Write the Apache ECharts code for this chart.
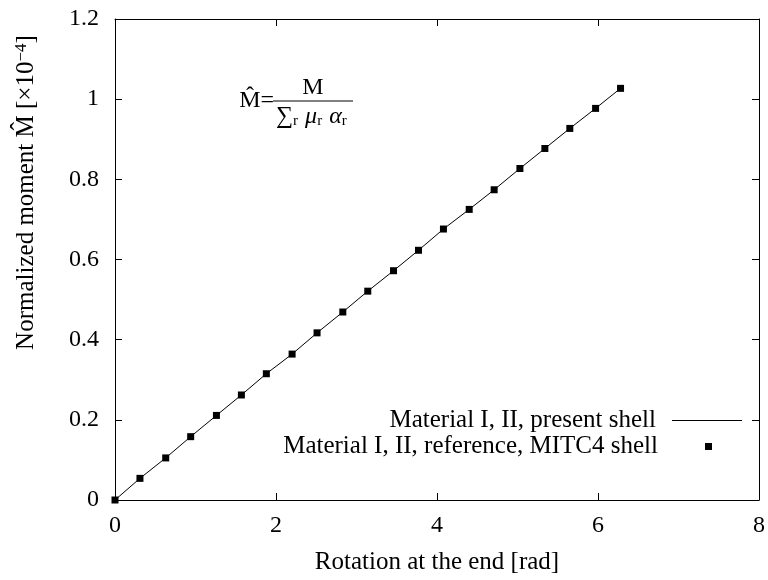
<!DOCTYPE html>
<html>
<head>
<meta charset="utf-8">
<script src="https://cdn.jsdelivr.net/npm/echarts@6/dist/echarts.min.js"></script>
<style>
  html, body { margin: 0; padding: 0; background: #fff; }
  #chart { width: 768px; height: 580px; }
</style>
</head>
<body>
<div id="chart"></div>
<script>
// End rotation (rad) and normalized end moment (x 1e-4)
const rotation = [0, 0.31, 0.63, 0.94, 1.26, 1.57, 1.88, 2.2, 2.51, 2.83, 3.14,
                  3.46, 3.77, 4.08, 4.4, 4.71, 5.03, 5.34, 5.65, 5.97, 6.28];
const momentPresent = [0, 0.054, 0.105, 0.158, 0.211, 0.262, 0.315, 0.364, 0.417, 0.469, 0.521,
                       0.572, 0.623, 0.676, 0.725, 0.774, 0.827, 0.877, 0.927, 0.977, 1.027];
const momentMITC4 = [0, 0.054, 0.105, 0.158, 0.211, 0.262, 0.315, 0.364, 0.417, 0.469, 0.521,
                     0.572, 0.623, 0.676, 0.725, 0.774, 0.827, 0.877, 0.927, 0.977, 1.027];
const seriesNames = ['Material I, II, present shell', 'Material I, II, reference, MITC4 shell'];

const FONT = '"Liberation Serif", "DejaVu Serif", serif';
const pairs = (xs, ys) => xs.map((x, i) => [x, ys[i]]);

const chart = echarts.init(document.getElementById('chart'), null, { renderer: 'canvas' });

const axisCommon = {
  axisLine: { show: true, onZero: false, lineStyle: { color: '#000', width: 1 } },
  axisTick: { show: true, inside: true, length: 7, lineStyle: { color: '#000' } },
  splitLine: { show: false }
};

chart.setOption({
  animation: false,
  backgroundColor: '#fff',
  textStyle: { fontFamily: FONT },
  grid: { left: 115, right: 5, top: 19, bottom: 79, containLabel: false },
  xAxis: [
    Object.assign({
      type: 'value', min: 0, max: 8, interval: 2, position: 'bottom',
      name: 'Rotation at the end [rad]', nameLocation: 'middle', nameGap: 50,
      nameTextStyle: { fontFamily: FONT, fontSize: 25, color: '#000' },
      axisLabel: { fontFamily: FONT, fontSize: 24, color: '#000', margin: 14 }
    }, axisCommon),
    Object.assign({
      type: 'value', min: 0, max: 8, interval: 2, position: 'top',
      axisLabel: { show: false }
    }, axisCommon)
  ],
  yAxis: [
    Object.assign({
      type: 'value', min: 0, max: 1.2, interval: 0.2, position: 'left',
      name: '{t|Normalized moment M\u0302 [\u00d710}{sup|\u22124}{t|]}',
      nameLocation: 'middle', nameGap: 75, nameRotate: 90,
      nameTextStyle: {
        fontFamily: FONT, fontSize: 25, color: '#000',
        padding: [0, 0, 0, 134],
        rich: {
          t: { fontFamily: FONT, fontSize: 25, color: '#000' },
          sup: { fontFamily: FONT, fontSize: 17, color: '#000', verticalAlign: 'top', padding: [0, 0, 10, 0] }
        }
      },
      axisLabel: { fontFamily: FONT, fontSize: 24, color: '#000', margin: 16 }
    }, axisCommon),
    Object.assign({
      type: 'value', min: 0, max: 1.2, interval: 0.2, position: 'right',
      axisLabel: { show: false }
    }, axisCommon)
  ],
  legend: [
    {
      data: [{ name: seriesNames[0], icon: 'rect' }],
      orient: 'vertical', align: 'right', right: 26, top: 408, padding: 0,
      itemWidth: 70, itemHeight: 1,
      textStyle: { fontFamily: FONT, fontSize: 25, color: '#000', padding: [0, 11, 0, 0] },
      selectedMode: false
    },
    {
      data: [{ name: seriesNames[1], icon: 'rect' }],
      orient: 'vertical', align: 'right', right: 56, top: 434, padding: 0,
      itemWidth: 7, itemHeight: 7,
      textStyle: { fontFamily: FONT, fontSize: 25, color: '#000', padding: [0, 42, 0, 0] },
      selectedMode: false
    }
  ],
  // Definition of the normalized moment, written as a fraction
  graphic: [
    { type: 'text', x: 274, y: 101, style: { text: 'M\u0302=', font: '24px ' + FONT, fill: '#000', align: 'right', verticalAlign: 'middle' } },
    { type: 'text', x: 313, y: 88, style: { text: 'M', font: '24px ' + FONT, fill: '#000', align: 'center', verticalAlign: 'middle' } },
    { type: 'line', shape: { x1: 273, y1: 101, x2: 353, y2: 101 }, style: { stroke: '#000', lineWidth: 1 } },
    {
      type: 'text', x: 276, y: 117,
      style: {
        text: '{b|\u2211}{s|r}{p| }{g|\u03bc}{s|r}{p| }{g|\u03b1}{s|r}',
        verticalAlign: 'middle',
        rich: {
          b: { font: '24px ' + FONT, fill: '#000' },
          g: { font: 'italic 24px ' + FONT, fill: '#000' },
          p: { font: '24px ' + FONT, fill: '#000', width: 7 },
          s: { font: '15px ' + FONT, fill: '#000', verticalAlign: 'bottom', padding: [8, 0, 0, 0] }
        }
      }
    }
  ],
  series: [
    {
      name: seriesNames[0], type: 'line', xAxisIndex: 0, yAxisIndex: 0,
      data: pairs(rotation, momentPresent),
      showSymbol: false, symbol: 'none',
      lineStyle: { color: '#000', width: 1 }, itemStyle: { color: '#000' },
      z: 2
    },
    {
      name: seriesNames[1], type: 'scatter', xAxisIndex: 0, yAxisIndex: 0,
      data: pairs(rotation, momentMITC4),
      symbol: 'rect', symbolSize: 7,
      itemStyle: { color: '#000', opacity: 1 },
      z: 3
    }
  ]
});
</script>
</body>
</html>
